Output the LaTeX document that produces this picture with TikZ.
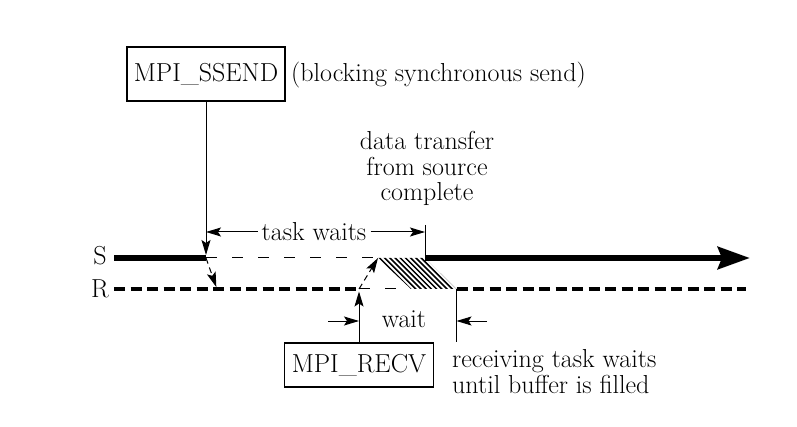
\documentclass[tikz,border=0pt]{standalone}
\usepackage{fontspec}
\usetikzlibrary{arrows.meta}
\begin{document}
\begin{tikzpicture}[x=1pt,y=-1pt,
  lbl/.style={font=\fontsize{26}{29}\selectfont, inner sep=0pt},
  box/.style={draw, line width=1.1pt, font=\fontsize{26}{29}\selectfont, inner sep=0pt},
  thinln/.style={line width=1pt},
  tip/.style={-{Stealth[length=15pt,width=9pt,inset=3pt]}},
  sthick/.style={line width=6.5pt},
  rthick/.style={line width=4.5pt, dash pattern=on 11pt off 5.5pt},
  thindash/.style={line width=1pt, dash pattern=on 11pt off 15pt},
  hatch/.style={line width=1.5pt}
]
\useasboundingbox (0,0) rectangle (797,427);

% key points on the time lines
\coordinate (s0) at (114,258);
\coordinate (s1) at (206,258);
\coordinate (s2) at (378,258);
\coordinate (s3) at (425,258);
\coordinate (s4) at (750,258);
\coordinate (r0) at (114,289);
\coordinate (r1) at (359,289);
\coordinate (r2) at (411,289);
\coordinate (r3) at (456.5,289);
\coordinate (r4) at (746,289);
\coordinate (rd) at (217,289);
\coordinate (tc) at (425,225);
\coordinate (wl) at (328,321);
\coordinate (wr) at (487,321);

% labels S and R
\node[lbl] (S) at (100,256) {S};
\node[lbl] (R) at (100,289) {R};

% boxes
\node[box, minimum width=158pt, minimum height=54pt] (ssend) at (206,74) {MPI\_SSEND};
\node[lbl, anchor=base west] (blk) at (291,82) {(blocking synchronous send)};
\node[box, minimum width=149pt, minimum height=44pt] (recv) at (359,365) {MPI\_RECV};

% texts
\node[lbl, anchor=base] (dt1) at (427,150) {data transfer};
\node[lbl, anchor=base] (dt2) at (427,176) {from source};
\node[lbl, anchor=base] (dt3) at (427,201) {complete};
\node[lbl, inner xsep=4pt] (tw) at (314,232) {task waits};
\node[lbl] (wt) at (404,319) {wait};
\node[lbl, anchor=base west] (rc1) at (452,367) {receiving task waits};
\node[lbl, anchor=base west] (rc2) at (452,393) {until buffer is filled};

% hatched transfer region
\begin{scope}
  \clip (s2) -- (s3) -- (r3) -- (r2) -- cycle;
  \foreach \i in {0,...,28} {
    \draw[hatch] (330+\i*5.2,250) -- (380+\i*5.2,300);
  }
\end{scope}

% S line
\draw[sthick] (s0) -- (s1);
\draw[thindash] (s1) -- (s2);
\draw[sthick, -{Stealth[length=32pt,width=22pt,inset=4pt]}] (s3) -- (s4);

% R line
\draw[rthick] (r0) -- (r1);
\draw[thindash] (r1) -- (r2);
\draw[rthick] (r3) -- (r4);

% connectors
\draw[thinln, tip, shorten >=3pt] (ssend.south) -- (s1);
\draw[thinln, tip, dash pattern=on 6pt off 4pt, shorten >=2pt] (s1) -- (rd);
\draw[thinln, tip, dash pattern=on 6pt off 4pt] (r1) -- (s2);
\draw[thinln] (tc) -- (s3);
\draw[thinln, tip] (tw.west) -- (tw.west -| s1);
\draw[thinln, tip] (tw.east) -- (tw.east -| tc);
\draw[thinln, tip, shorten >=2.5pt] (recv.north) -- (r1);
\draw[thinln] (r3) -- (r3 |- recv.north);
\draw[thinln, tip] (wl) -- (wl -| r1);
\draw[thinln, tip] (wr) -- (wr -| r3);
\end{tikzpicture}
\end{document}
